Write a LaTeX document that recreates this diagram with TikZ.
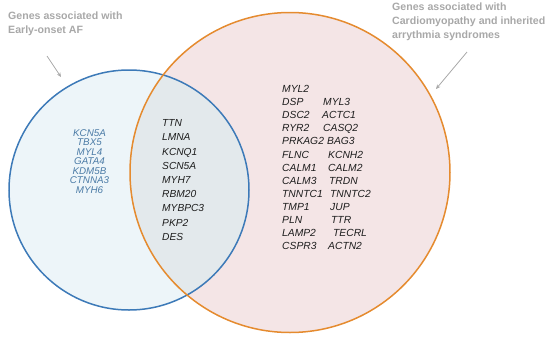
\documentclass[tikz,border=0pt]{standalone}
\usepackage{fontspec}
\setmainfont{Liberation Sans}
\usetikzlibrary{arrows.meta}
\definecolor{bluefill}{HTML}{EDF5F9}
\definecolor{pinkfill}{HTML}{F4E5E6}
\definecolor{interfill}{HTML}{E3E9EC}
\definecolor{bluestroke}{HTML}{3D7AB8}
\definecolor{orangestroke}{HTML}{E58B2F}
\definecolor{headgray}{HTML}{A8A8A8}
\definecolor{genblue}{HTML}{4B7BA6}
\definecolor{genblack}{HTML}{1E1E1E}
\tikzset{
  heading/.style={font=\fontsize{10.6}{14}\selectfont\bfseries, text=headgray, align=left, inner sep=0pt, anchor=north west},
  pointer/.style={draw=headgray, line width=0.8pt, -{Stealth[length=4.5pt,width=4pt]}},
  gene/.style={font=\fontsize{10.3}{13}\selectfont\itshape, text=genblack, inner sep=0pt, anchor=base west},
}
\begin{document}
\begin{tikzpicture}[x=1pt,y=-1pt]
\useasboundingbox (0,0) rectangle (550,338);
% circles
\fill[bluefill] (129,190) circle (120);
\fill[pinkfill] (290,172.5) circle (160);
\begin{scope}
  \clip (129,190) circle (120);
  \fill[interfill] (290,172.5) circle (160);
\end{scope}
\draw[bluestroke, line width=1.5pt] (129,190) circle (120);
\draw[orangestroke, line width=1.5pt] (290,172.5) circle (160);
% headings
\node[heading] (hl) at (8,12) {Genes associated with\\Early-onset AF};
\node[heading] (hr) at (392,3) {Genes associated with\\Cardiomyopathy and inherited\\arrythmia syndromes};
% pointers
\coordinate (pl1) at (47,56);
\coordinate (pl2) at (61,77);
\coordinate (pr1) at (467,52);
\coordinate (pr2) at (436,89);
\draw[pointer] (pl1) -- (pl2);
\draw[pointer] (pr1) -- (pr2);
% blue list
\node[font=\fontsize{9.8}{9.55}\selectfont\itshape, text=genblue, align=center, inner sep=0pt, anchor=north] (bl) at (89.5,129)
 {KCN5A\\TBX5\\MYL4\\GATA4\\KDM5B\\CTNNA3\\MYH6};
% middle list
\node[font=\fontsize{10.2}{14.2}\selectfont\itshape, text=genblack, align=left, inner sep=0pt, anchor=north west] (ml) at (162,119.5)
 {TTN\\LMNA\\KCNQ1\\SCN5A\\MYH7\\RBM20\\MYBPC3\\PKP2\\DES};
% right list
\node[gene] (r1) at (282,92.5) {MYL2};
\foreach \i/\a/\b/\bx [count=\n] in {
  2/DSP/MYL3/323, 3/DSC2/ACTC1/322, 4/RYR2/CASQ2/323, 5/PRKAG2/BAG3/327,
  6/FLNC/KCNH2/328, 7/CALM1/CALM2/328, 8/CALM3/TRDN/329, 9/TNNTC1/TNNTC2/330,
  10/TMP1/JUP/330, 11/PLN/TTR/331, 12/LAMP2/TECRL/333, 13/CSPR3/ACTN2/328}{
  \node[gene] (ra\i) at (282,{92.5+(\i-1)*13.1}) {\a};
  \node[gene] (rb\i) at (\bx,{92.5+(\i-1)*13.1}) {\b};
}
\end{tikzpicture}
\end{document}
